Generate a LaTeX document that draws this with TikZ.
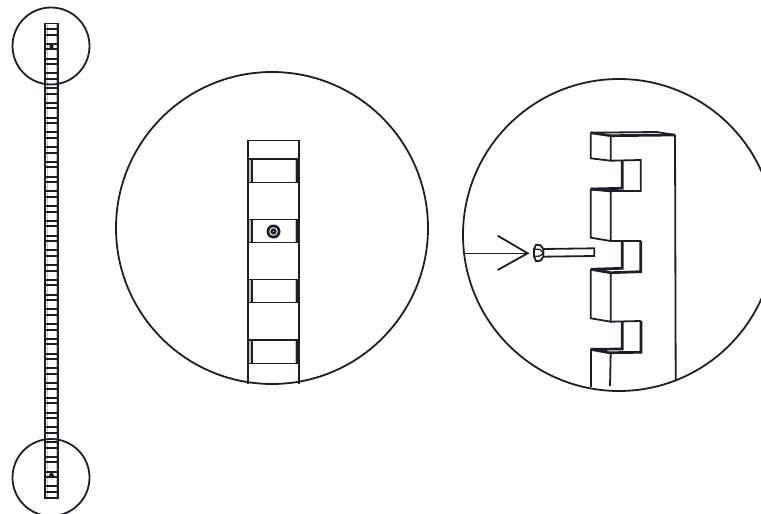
\documentclass[tikz,border=0pt]{standalone}
\definecolor{inkline}{HTML}{1E1E28}
\definecolor{bandgray}{HTML}{C4C4C6}
\begin{document}
\begin{tikzpicture}[
        x=1pt, y=-1pt,
        lens/.style={circle, draw=inkline, line width=1.8pt, inner sep=0pt},
        outline/.style={draw=inkline, line width=1.8pt, line join=miter},
        thinline/.style={draw=inkline, line width=1.3pt},
        heavy/.style={draw=inkline, line width=2.7pt},
        rung/.style={draw=inkline, line width=2pt}
    ]
        \useasboundingbox (0, 0) rectangle (761, 514);

        % long strip on the left
        \fill[bandgray] (47, 23.5) rectangle (48, 498);
        \fill[bandgray] (55.5, 23.5) rectangle (56.5, 498);
        \draw[outline] (45, 23.5) rectangle (58, 498);
        \foreach \k in {0, ..., 31} {
            \draw[rung] (45, 29 + 14.75*\k) -- (58, 29 + 14.75*\k);
            \draw[rung] (45, 34.5 + 14.75*\k) -- (58, 34.5 + 14.75*\k);
        }
        \fill[inkline] (51.5, 46.5) circle (2.2);
        \fill[inkline] (51.5, 475.5) circle (2.6);
        \node[lens, minimum size=77pt] (lens_top) at (51, 46) {};
        \node[lens, minimum size=77pt] (lens_bottom) at (51, 477.5) {};

        % front view
        \node[lens, minimum size=312pt] (lens_front) at (272, 228) {};
        \foreach \t/\b in {159/182.5, 219.5/242.5, 279.5/302.5, 340/363.5} {
            \fill[bandgray] (248, \t) rectangle (252, \b);
            \fill[bandgray] (295, \t) rectangle (297.5, \b);
            \draw[thinline] (252, \t) -- (252, \b);
            \draw[thinline] (297, \t) -- (297, \b);
            \draw[outline] (248, \t) -- (299, \t);
            \draw[outline] (248, \b) -- (299, \b);
        }
        \draw[outline] (248, 384) -- (248, 140.5) -- (299, 140.5) -- (299, 384);
        \node[circle, fill=inkline, minimum size=14pt, inner sep=0pt] (screw_front) at (273.5, 231.5) {};
        \draw[white, line width=0.9pt] (screw_front) circle (3.8);
        \fill[white] (screw_front) circle (0.5);

        % side view
        \node[lens, minimum size=312pt] (lens_side) at (619, 235) {};
        \draw[heavy] (590.7, 132.7) -- (610.7, 135.7) -- (675, 135);
        \draw[outline] (590.7, 132.7) -- (656.7, 132) -- (675, 135);
        \draw[outline] (675, 135) -- (675.7, 380);
        % first tooth
        \draw[outline] (590.7, 132.7) -- (590.7, 158.3) -- (610.7, 160.7) -- (610.7, 135.7);
        \draw[outline] (610.7, 160.7) -- (640.7, 160) -- (640.7, 191) -- (610.7, 191);
        \draw[heavy] (622.3, 160.7) -- (622.3, 188.3) -- (590.7, 189);
        \draw[heavy] (590.7, 189) -- (610.7, 191);
        % second tooth
        \draw[outline] (590.7, 189) -- (590.7, 237.7) -- (610.7, 241) -- (610.7, 191);
        \draw[outline] (610.7, 241) -- (640.7, 241);
        \draw[heavy] (640.7, 241) -- (640.7, 271.7) -- (610.7, 272.7);
        \draw[heavy] (622.3, 241) -- (622.3, 268.3) -- (590.7, 269.3) -- (610.7, 272.7);
        % third tooth
        \draw[outline] (590.7, 269.3) -- (590.7, 318.3) -- (610.7, 321.7) -- (610.7, 272.7);
        \draw[outline] (610.7, 321.7) -- (641, 321);
        \draw[heavy] (641, 321) -- (641, 352.3) -- (610.7, 352.7);
        \draw[heavy] (622.3, 321.7) -- (622.3, 349) -- (590.7, 349.3) -- (610.7, 353);
        \draw[outline] (590.7, 349.3) -- (590.7, 386.7);
        \draw[outline] (610.7, 353) -- (610, 386);

        % arrow and bolt
        \coordinate (arrow_tail) at (463.5, 253.3);
        \coordinate (arrow_tip) at (527.7, 253.3);
        \draw[thinline] (arrow_tail) -- (arrow_tip);
        \draw[outline] (497.7, 235.7) -- (arrow_tip) -- (497.7, 270);
        \draw[outline, fill=white] (543.3, 249) -- (594.3, 248.3) -- (594.3, 256) -- (543.3, 256.7) -- cycle;
        \draw[outline, fill=white] (536, 244.8) -- (540.5, 245.2) -- (543.3, 249) -- (543.3, 256.7) -- (540.5, 260.8) -- (536, 261) -- (534, 256.5) -- (534, 249) -- cycle;
        \draw[thinline] (534, 249) -- (540, 249.5) -- (543.3, 252.8) -- (540, 256) -- (534, 256.5);
    \end{tikzpicture}
\end{document}
